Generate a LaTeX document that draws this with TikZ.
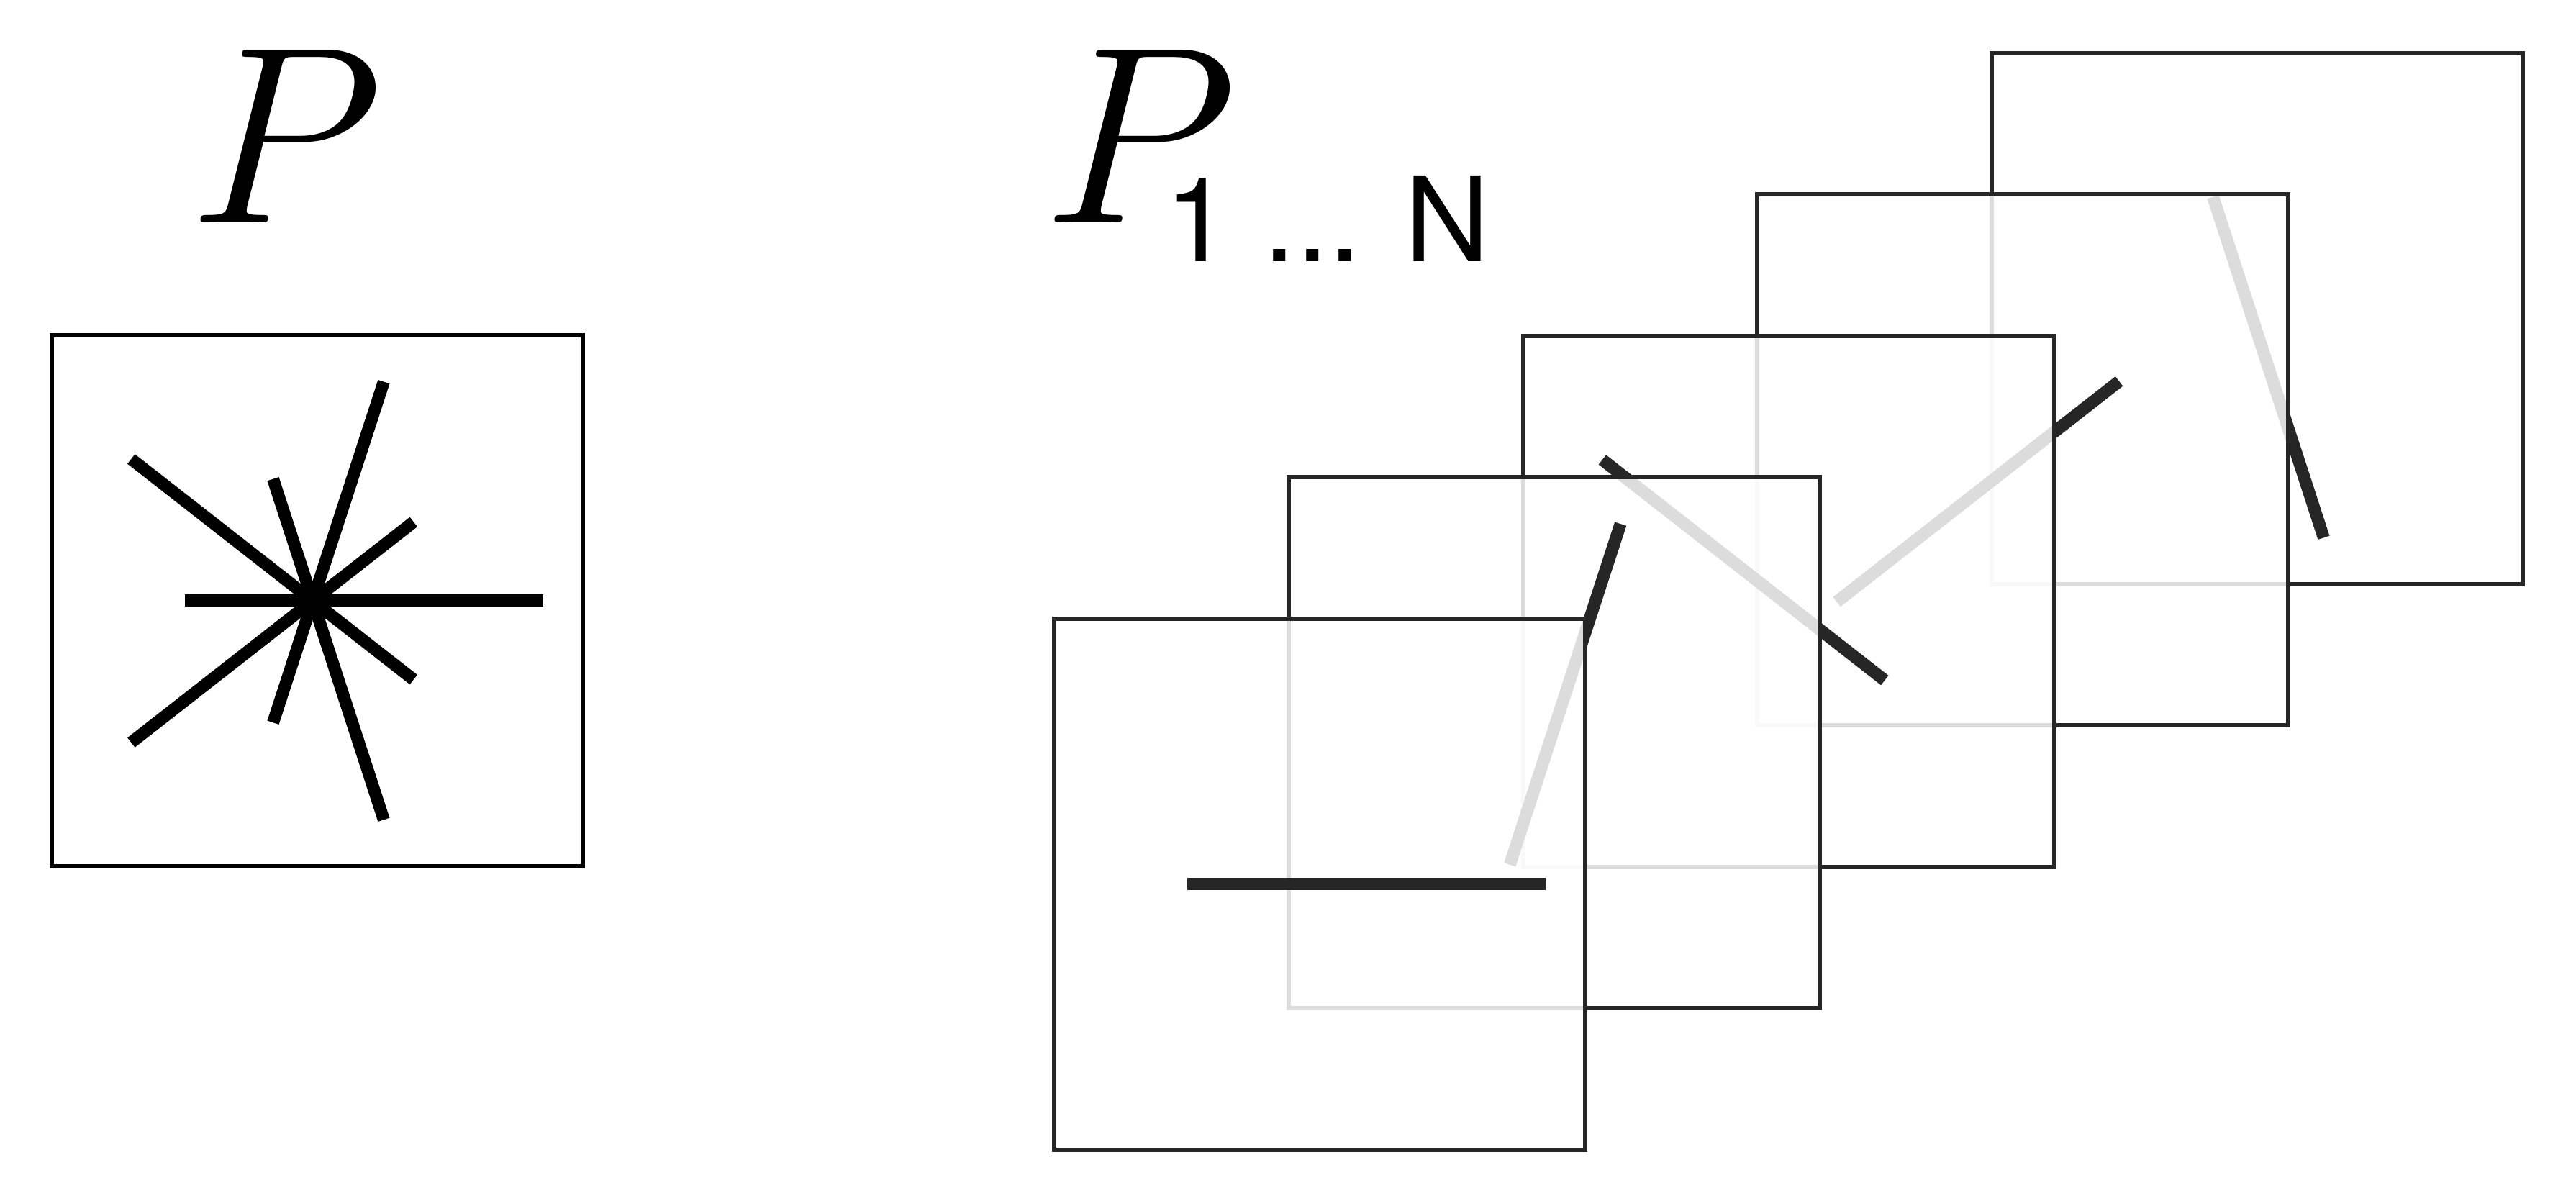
\documentclass[tikz,border=0pt]{standalone}
\usepackage{fix-cm}
\usepackage{fontspec}
\newfontfamily\subfont{TeX Gyre Heros}
\usetikzlibrary{positioning}
\definecolor{ink}{RGB}{38,38,38}
\tikzset{
  frame/.style={draw=#1,line width=0.6mm,minimum size=73.8mm,inner sep=0pt},
  frame/.default=ink,
  sheet/.style={frame,fill=white,fill opacity=0.84},
  ray/.style={draw=#1,line width=1.7mm},
  ray/.default=ink,
  lbl/.style={inner sep=0pt,anchor=base west,font=\fontsize{100}{100}\selectfont},
}
\begin{document}
\begin{tikzpicture}
  \useasboundingbox (0,0) rectangle (35.8,16.72);
  % full projection
  \node[lbl] (pl) at (2.62,13.62) {$P$};
  \node[frame=black] (p0) at (4.41,8.37) {};
  \coordinate (c0) at ([xshift=-0.65mm]p0.center);
  \foreach \a in {0,72,142,218,288}
    \draw[ray=black] ([shift={(\a+180:1.78)}]c0) -- ([shift={(\a:3.2)}]c0);
  % stack of single projections, back to front
  \node[lbl] (pn) at (14.49,13.62) {\rlap{$P$}\hspace*{1.70cm}\raisebox{-0.54cm}{\subfont\fontsize{46.5}{50}\selectfont 1 ... N}};
  \foreach \k/\a in {5/288,4/218,3/142,2/72,1/0}{
    \node[sheet] (s\k) at ({18.34+3.2575*(\k-1)},{4.43+1.965*(\k-1)}) {};
    \coordinate (c\k) at ([xshift=-0.65mm]s\k.center);
    \draw[ray] ([shift={(\a+180:1.78)}]c\k) -- ([shift={(\a:3.2)}]c\k);
  }
\end{tikzpicture}
\end{document}
